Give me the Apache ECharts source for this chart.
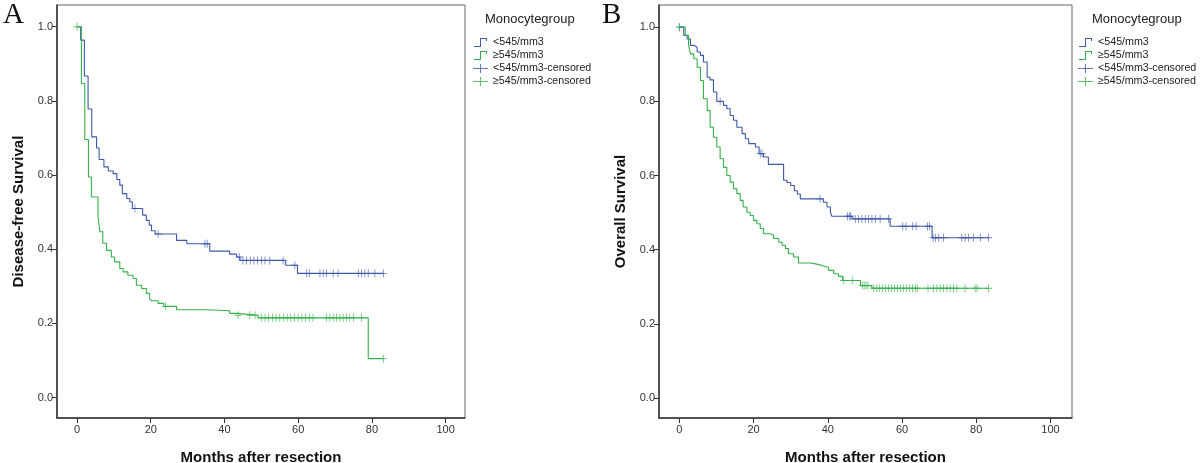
<!DOCTYPE html>
<html>
<head>
<meta charset="utf-8">
<script src="https://cdn.jsdelivr.net/npm/echarts@6/dist/echarts.min.js"></script>
<style>
html,body{margin:0;padding:0;background:#fff;}
#c{width:1200px;height:463px;}
</style>
</head>
<body>
<div id="c"></div>
<script>
// ---------- DATA ----------
const xTicks = [0, 20, 40, 60, 80, 100];
const yTicks = [0, 0.2, 0.4, 0.6, 0.8, 1.0];
const groupNames = ['<545/mm3', '≥545/mm3', '<545/mm3-censored', '≥545/mm3-censored'];

// Panel A: Disease-free survival
const A_lowT = [0, 1, 2, 3, 4, 5.3, 6, 7.3, 8.5, 9.8, 10.8, 11.6, 12.3, 13.5, 14.3, 15.0, 17.8, 18.8, 19.6, 20.2, 21.2, 27.0, 29.8, 36.0, 41.4, 43.3, 44.2, 56.6, 59.8, 83.1];
const A_lowS = [1.000, 0.964, 0.867, 0.778, 0.703, 0.673, 0.642, 0.622, 0.611, 0.604, 0.588, 0.573, 0.550, 0.537, 0.528, 0.510, 0.492, 0.478, 0.465, 0.450, 0.441, 0.424, 0.415, 0.395, 0.387, 0.379, 0.370, 0.357, 0.335, 0.335];
const A_lowCens = [15.7, 22.0, 34.7, 35.3, 44.0, 45.0, 46.0, 47.0, 48.0, 49.0, 50.0, 51.0, 52.3, 55.9, 59.1, 62.3, 63.0, 65.9, 66.8, 67.7, 69.5, 70.8, 76.3, 77.2, 78.1, 79.0, 80.8, 83.1];

const A_highT = [0, 1.2, 2.1, 3.1, 3.9, 5.7, 6.2, 7.0, 8.0, 9.3, 10.2, 11.6, 12.5, 13.8, 15.2, 16.1, 17.5, 18.8, 19.7, 20.2, 22.0, 23.5, 27.0, 35.1, 41.4, 43.5, 49.1, 79.0, 83.1];
const A_highS = [1.000, 0.847, 0.696, 0.595, 0.541, 0.487, 0.447, 0.416, 0.397, 0.379, 0.366, 0.348, 0.339, 0.330, 0.321, 0.303, 0.294, 0.281, 0.267, 0.261, 0.254, 0.246, 0.237, 0.234, 0.227, 0.222, 0.215, 0.105, 0.105];
const A_highCens = [0, 24.0, 43.7, 46.9, 48.3, 50, 51, 52, 53, 54, 55, 56, 57, 58, 59, 60, 61, 62, 63, 64, 67.7, 68.6, 69.5, 70.4, 71.3, 72.2, 73.1, 74.0, 75.0, 77.2, 83.1];

// Panel B: Overall survival
const B_lowT = [0, 1.2, 2.1, 3.0, 3.9, 4.8, 5.7, 6.5, 7.5, 8.3, 9.2, 10.1, 11.9, 12.8, 13.7, 14.6, 15.5, 16.9, 17.8, 18.7, 20.5, 21.5, 22.7, 24.0, 28.1, 29.0, 30.0, 31.0, 31.8, 32.6, 38.8, 39.8, 40.7, 41.1, 46.5, 56.8, 68.1, 83.3];
const B_lowS = [1.000, 0.978, 0.968, 0.951, 0.946, 0.933, 0.924, 0.906, 0.865, 0.858, 0.825, 0.800, 0.789, 0.780, 0.762, 0.749, 0.730, 0.713, 0.699, 0.686, 0.677, 0.659, 0.650, 0.630, 0.587, 0.581, 0.573, 0.559, 0.550, 0.537, 0.528, 0.515, 0.501, 0.490, 0.483, 0.463, 0.432, 0.432];
const B_lowCens = [0, 11.0, 21.8, 22.3, 37.9, 45.3, 45.8, 46.2, 47.4, 48.3, 49.2, 50.1, 51.0, 51.9, 52.8, 54.1, 56.4, 60.2, 61.1, 62.9, 63.8, 66.9, 67.4, 68.4, 69.0, 69.9, 71.2, 76.1, 77.0, 77.9, 79.3, 81.1, 83.3];

const B_highT = [0, 1.6, 2.5, 3.0, 3.9, 4.8, 5.7, 6.5, 7.5, 8.3, 9.2, 10.1, 11.0, 11.9, 12.8, 13.7, 14.6, 15.5, 16.4, 17.2, 18.2, 19.1, 20.0, 20.9, 21.8, 22.7, 24.5, 25.4, 26.8, 27.7, 28.6, 29.4, 30.8, 32.1, 35.3, 37.1, 38.9, 40.2, 41.6, 42.9, 44.0, 48.8, 51.9, 83.3];
const B_highS = [1.000, 0.978, 0.951, 0.928, 0.915, 0.892, 0.856, 0.807, 0.775, 0.730, 0.703, 0.677, 0.645, 0.622, 0.600, 0.582, 0.564, 0.551, 0.533, 0.515, 0.501, 0.492, 0.479, 0.470, 0.457, 0.443, 0.439, 0.430, 0.420, 0.412, 0.403, 0.389, 0.380, 0.364, 0.361, 0.356, 0.352, 0.344, 0.335, 0.328, 0.317, 0.303, 0.296, 0.296];
const B_highCens = [0, 44.3, 46.6, 49.3, 49.8, 50.3, 50.8, 52.4, 53.2, 54.0, 54.8, 55.6, 56.4, 57.2, 58.0, 58.8, 59.6, 60.4, 61.2, 62.0, 62.8, 63.6, 64.1, 67.0, 68.5, 69.4, 70.3, 71.2, 72.1, 73.0, 73.9, 74.8, 77.0, 79.7, 80.2, 83.3];

// ---------- BUILD ----------
const BLUE = '#3e58ac', GREEN = '#35b24a';
const FONT = '"Liberation Sans", Arial, sans-serif';
const stepIcon = 'path://M0,9 L6,9 L6,1 L13,1 L13,4 L12,4 L12,2 L7,2 L7,10 L0,10 Z';
const plusIcon = 'path://M0,4 L7,4 L7,0 L8,0 L8,4 L15,4 L15,5 L8,5 L8,9 L7,9 L7,5 L0,5 Z';
const plusSym = 'path://M0,4 L4,4 L4,0 L5,0 L5,4 L9,4 L9,5 L5,5 L5,9 L4,9 L4,5 L0,5 Z';

function pairs(T, S) { return T.map((t, i) => [t, S[i]]); }
function censPts(T, S, C) {
  return C.map(c => { let v = S[0]; for (let i = 0; i < T.length; i++) { if (T[i] <= c) v = S[i]; } return [c, v]; });
}

const grids = [
  { left: 57, top: 5, width: 408, height: 413 },
  { left: 659, top: 5, width: 413, height: 413 }
];
const xr = [{ min: -5.43, max: 105.25 }, { min: -5.47, max: 105.8 }];
const yr = [{ min: -0.055, max: 1.0586 }, { min: -0.054, max: 1.0598 }];
const yNames = ['Disease-free Survival', 'Overall Survival'];

const xAxes = [], yAxes = [], series = [];
const panels = [
  [A_lowT, A_lowS, A_lowCens, A_highT, A_highS, A_highCens],
  [B_lowT, B_lowS, B_lowCens, B_highT, B_highS, B_highCens]
];
for (let g = 0; g < 2; g++) {
  xAxes.push({
    type: 'value', gridIndex: g, min: xr[g].min, max: xr[g].max,
    name: 'Months after resection', nameLocation: 'middle', nameGap: 32,
    nameTextStyle: { fontFamily: FONT, fontWeight: 'bold', fontSize: 15, color: '#111' },
    axisLine: { onZero: false, lineStyle: { color: '#333', width: 1.5 } },
    axisTick: { show: true, length: 5, customValues: xTicks, lineStyle: { color: '#333' } },
    axisLabel: { customValues: xTicks, fontFamily: FONT, fontSize: 11, color: '#333', margin: 6 },
    splitLine: { show: false }
  });
  yAxes.push({
    type: 'value', gridIndex: g, min: yr[g].min, max: yr[g].max,
    name: yNames[g], nameLocation: 'middle', nameGap: 31, nameRotate: 90,
    nameTextStyle: { fontFamily: FONT, fontWeight: 'bold', fontSize: 15, color: '#111' },
    axisLine: { onZero: false, lineStyle: { color: '#333', width: 1.5 } },
    axisTick: { show: true, length: 5, customValues: yTicks, lineStyle: { color: '#333' } },
    axisLabel: { customValues: yTicks, fontFamily: FONT, fontSize: 11, color: '#333', margin: 4,
      formatter: v => v.toFixed(1) },
    splitLine: { show: false }
  });
  const p = panels[g];
  series.push({ name: groupNames[0], type: 'line', step: 'end', xAxisIndex: g, yAxisIndex: g,
    data: pairs(p[0], p[1]), showSymbol: false, lineStyle: { color: BLUE, width: 1.1 }, itemStyle: { color: BLUE }, z: 3 });
  series.push({ name: groupNames[1], type: 'line', step: 'end', xAxisIndex: g, yAxisIndex: g,
    data: pairs(p[3], p[4]), showSymbol: false, lineStyle: { color: GREEN, width: 1.1 }, itemStyle: { color: GREEN }, z: 3 });
  series.push({ name: groupNames[2], type: 'scatter', xAxisIndex: g, yAxisIndex: g,
    data: censPts(p[0], p[1], p[2]), symbol: plusSym, symbolSize: [7, 8], itemStyle: { color: BLUE }, z: 4 });
  series.push({ name: groupNames[3], type: 'scatter', xAxisIndex: g, yAxisIndex: g,
    data: censPts(p[3], p[4], p[5]), symbol: plusSym, symbolSize: [7, 8], itemStyle: { color: GREEN }, z: 4 });
}

const legendColors = [BLUE, GREEN, BLUE, GREEN];
const legendIcons = [stepIcon, stepIcon, plusIcon, plusIcon];
const legendData = groupNames.map((n, i) => ({
  name: n, icon: legendIcons[i],
  itemStyle: { color: legendColors[i], borderWidth: 0 }
}));
const legends = [468, 1073].map(l => ({
  left: l, top: 32, orient: 'vertical', itemGap: 2, itemWidth: 15, itemHeight: 9,
  selectedMode: false, data: legendData,
  textStyle: { fontFamily: FONT, fontSize: 10.7, color: '#222', padding: [0, 0, 0, 0] }
}));

const option = {
  animation: false,
  backgroundColor: '#fff',
  grid: grids.map(gr => Object.assign({ show: true, borderColor: '#666', borderWidth: 1, backgroundColor: 'transparent', outerBoundsMode: 'none', containLabel: false }, gr)),
  xAxis: xAxes, yAxis: yAxes, series: series, legend: legends,
  graphic: [
    { type: 'text', left: 485, top: 13, style: { text: 'Monocytegroup', font: '13px ' + FONT, fill: '#222' } },
    { type: 'text', left: 1092, top: 13, style: { text: 'Monocytegroup', font: '13px ' + FONT, fill: '#222' } },
    { type: 'text', left: 3, top: 1, style: { text: 'A', font: '29px "Liberation Serif", "DejaVu Serif", serif', fill: '#111' } },
    { type: 'text', left: 602, top: 1, style: { text: 'B', font: '29px "Liberation Serif", "DejaVu Serif", serif', fill: '#111' } }
  ]
};
const chart = echarts.init(document.getElementById('c'), null, { renderer: 'canvas' });
chart.setOption(option);
</script>
</body>
</html>
